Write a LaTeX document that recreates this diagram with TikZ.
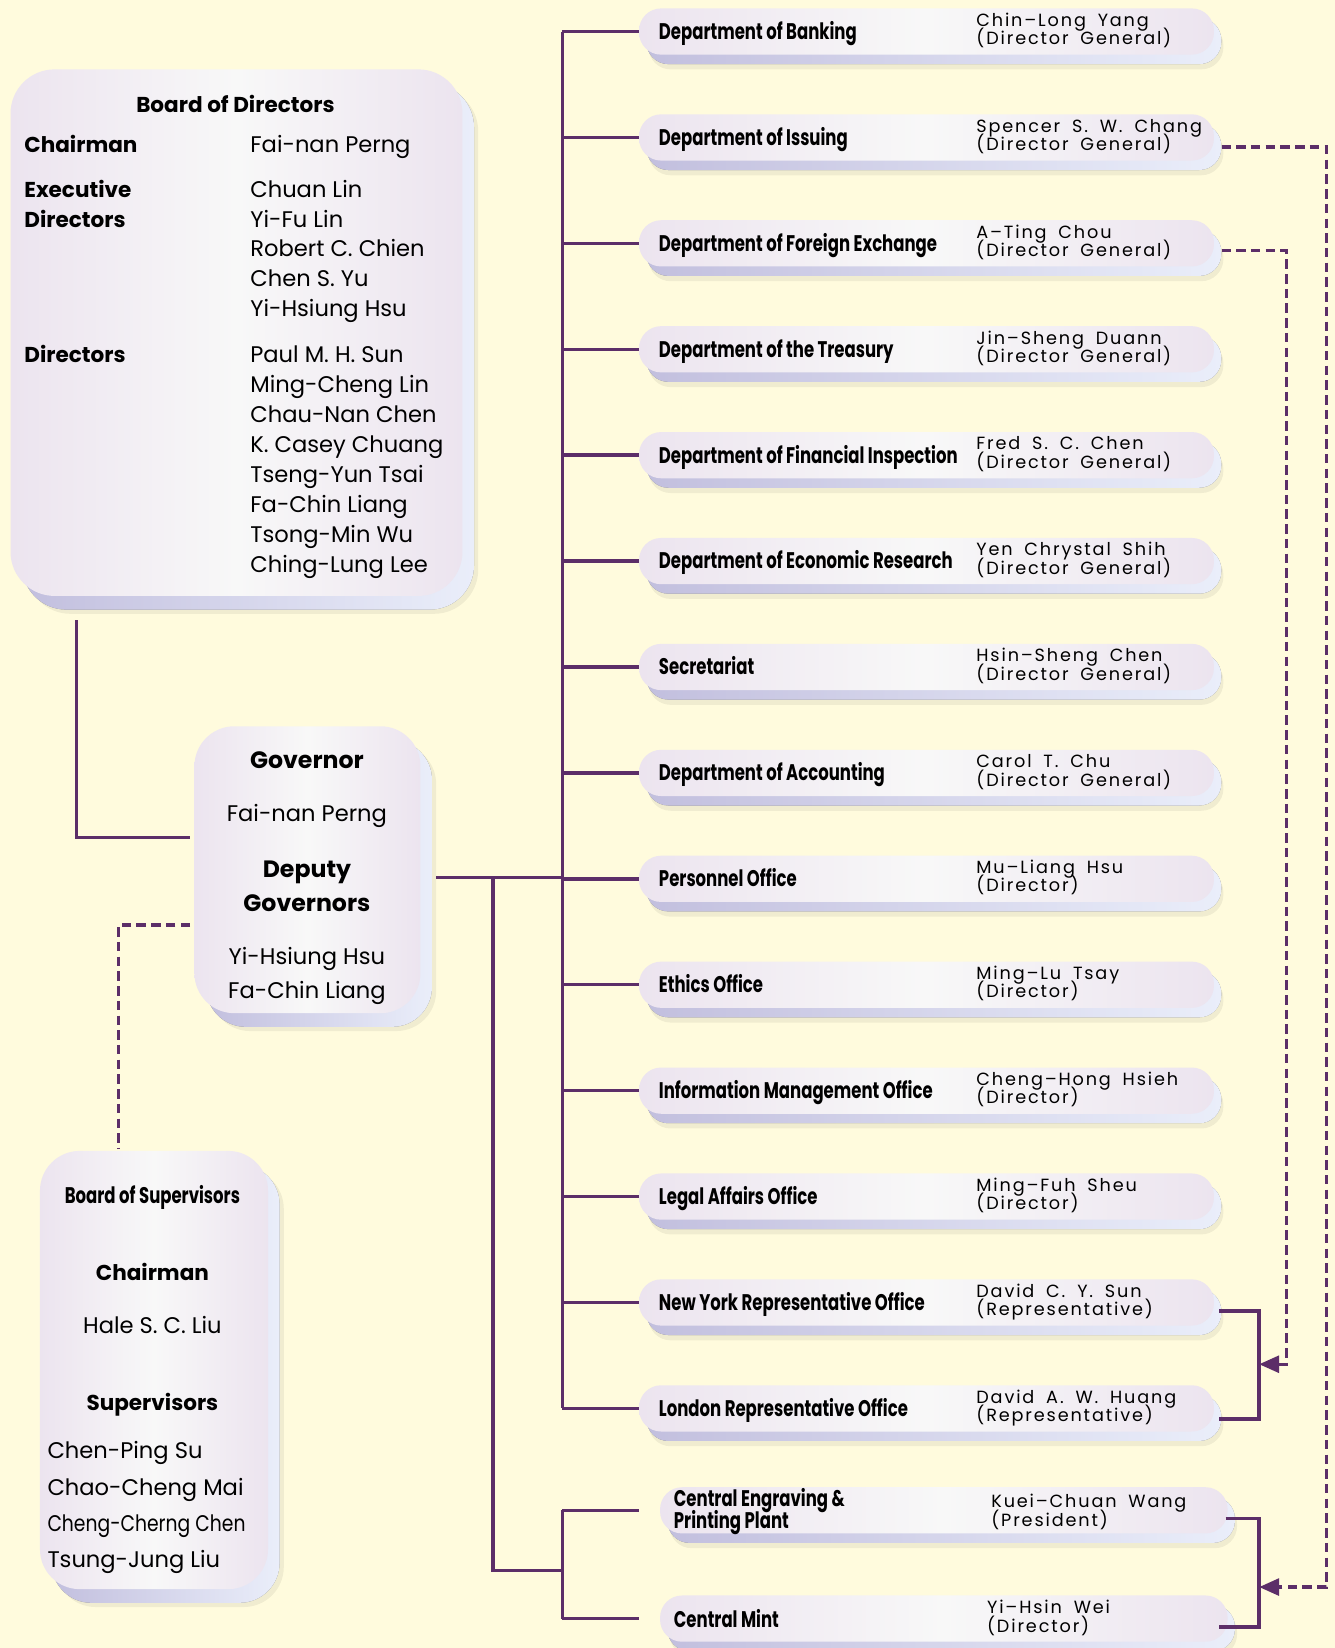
\documentclass[tikz,border=0pt]{standalone}
\usepackage{fontspec}
\setmainfont{Poppins}
\newfontfamily\narrowfont[FakeStretch=0.73]{Poppins}
\newfontfamily\tightfont[FakeStretch=0.83]{Poppins}
\newfontfamily\staffont[LetterSpace=10.5, WordSpace=1.8]{Poppins}
\usetikzlibrary{positioning,arrows.meta,shadows}
\definecolor{cream}{RGB}{255,251,221}
\definecolor{plum}{RGB}{92,46,104}
\definecolor{lilac}{RGB}{236,228,239}
\definecolor{pearl}{RGB}{248,248,248}
\definecolor{haze}{RGB}{194,191,222}
\definecolor{mist}{RGB}{234,238,250}
\begin{document}
\begin{tikzpicture}[x=1pt, y=-1pt,
    panel/.style = {rounded corners=#1, left color=lilac, right color=lilac,
      middle color=pearl, inner sep=0pt},
    boxlift/.style = {
      drop shadow={shadow xshift=15pt, shadow yshift=-17pt, fill=black, opacity=.06},
      drop shadow={shadow xshift=11pt, shadow yshift=-13pt, left color=haze, right color=mist, opacity=1}},
    pilllift/.style = {
      drop shadow={shadow xshift=9pt, shadow yshift=-14pt, fill=black, opacity=.06},
      drop shadow={shadow xshift=7pt, shadow yshift=-9pt, left color=haze, right color=mist, opacity=1}},
    pill/.style = {panel=21pt, pilllift, minimum height=44pt},
    head/.style = {font=\fontsize{20.5}{24}\selectfont\bfseries, inner sep=0pt, anchor=base},
    bighead/.style = {head, font=\fontsize{22.5}{26}\selectfont\bfseries},
    who/.style = {font=\fontsize{21.5}{26}\selectfont, inner sep=0pt, anchor=base west},
    unit/.style = {font=\narrowfont\bfseries\fontsize{21.5}{22}\selectfont, inner sep=0pt, anchor=base west},
    staff/.style = {font=\staffont\fontsize{16.8}{18}\selectfont, inner sep=0pt, anchor=base west},
    link/.style = {draw=plum, line width=3.2pt},
    dlink/.style = {link, dash pattern=on 9pt off 5pt},
    tip/.style = {-{Triangle[length=19pt, width=16pt]}},
  ]
  \fill[cream] (0,0) rectangle (1270,1568);
  \useasboundingbox (0,0) rectangle (1270,1568);

  % board of directors
  \node[panel=42pt, boxlift, minimum width=430pt, minimum height=501pt] (bod) at (225,316.5) {};
  \node[head] (bodtitle) at (224,107) {Board of Directors};
  \node[head, anchor=base west] (chair) at (23,145) {Chairman};
  \node[who] (chairwho) at (238,145) {Fai-nan Perng};
  \node[head, anchor=base west] (exec) at (23,188) {Executive};
  \node[head, anchor=base west] (exec2) at (23,216.5) {Directors};
  \foreach \n [count=\k from 0] in {Chuan Lin, Yi-Fu Lin, Robert C. Chien, Chen S. Yu, Yi-Hsiung Hsu}
    \node[who] (ex\k) at (238,187.5+28.5*\k) {\n};
  \node[head, anchor=base west] (dirs) at (23,345) {Directors};
  \foreach \n [count=\k from 0] in {Paul M. H. Sun, Ming-Cheng Lin, Chau-Nan Chen, K. Casey Chuang,
      Tseng-Yun Tsai, Fa-Chin Liang, Tsong-Min Wu, Ching-Lung Lee}
    \node[who] (dir\k) at (238,345+28.57*\k) {\n};

  % governor
  \node[panel=38pt, boxlift, minimum width=215pt, minimum height=273pt] (gov) at (292.5,827.5) {};
  \node[bighead] (govtitle) at (292,731) {Governor};
  \node[who, anchor=base] (govwho) at (292,782) {Fai-nan Perng};
  \node[bighead] (deptitle) at (292,835) {Deputy};
  \node[bighead] (deptitle2) at (292,867) {Governors};
  \node[who, anchor=base] (dep1) at (292,918) {Yi-Hsiung Hsu};
  \node[who, anchor=base] (dep2) at (292,950) {Fa-Chin Liang};

  % board of supervisors
  \node[panel=38pt, boxlift, minimum width=217pt, minimum height=417pt] (bos) at (146.5,1303.5) {};
  \node[unit, anchor=base] (bostitle) at (145,1145) {Board of Supervisors};
  \node[head] (boschair) at (145,1218) {Chairman};
  \node[who, anchor=base] (boschairwho) at (145,1269) {Hale S. C. Liu};
  \node[head] (bossup) at (145,1342) {Supervisors};
  \node[who] (sup1) at (45,1388) {Chen-Ping Su};
  \node[who] (sup2) at (45,1423) {Chao-Cheng Mai};
  \node[who, font=\tightfont\fontsize{21.5}{26}\selectfont] (sup3) at (45,1457) {Cheng-Cherng Chen};
  \node[who] (sup4) at (45,1491) {Tsung-Jung Liu};

  % departments
  \foreach \dname/\who/\role [count=\i from 0] in {
      Department of Banking/Chin–Long Yang/(Director General),
      Department of Issuing/Spencer S. W. Chang/(Director General),
      Department of Foreign Exchange/A–Ting Chou/(Director General),
      Department of the Treasury/Jin–Sheng Duann/(Director General),
      Department of Financial Inspection/Fred S. C. Chen/(Director General),
      Department of Economic Research/Yen Chrystal Shih/(Director General),
      Secretariat/Hsin–Sheng Chen/(Director General),
      Department of Accounting/Carol T. Chu/(Director General),
      Personnel Office/Mu–Liang Hsu/(Director),
      Ethics Office/Ming–Lu Tsay/(Director),
      Information Management Office/Cheng–Hong Hsieh/(Director),
      Legal Affairs Office/Ming–Fuh Sheu/(Director),
      New York Representative Office/David C. Y. Sun/(Representative),
      London Representative Office/David A. W. Huang/(Representative)}{
    \node[pill, minimum width=547pt] (d\i) at (881.5,30+100.77*\i) {};
    \node[unit] (t\i) at ([shift={(19,7.5)}]d\i.west) {\dname};
    \node[staff] (n\i) at ([shift={(321,-5)}]d\i.west) {\who};
    \node[staff] (r\i) at ([shift={(321,12.5)}]d\i.west) {\role};
  }
  \node[pill, minimum width=540pt] (cep) at (898,1437) {};
  \node[unit] (ceptitle) at (641,1433.5) {Central Engraving \&};
  \node[unit] (ceptitle2) at (641,1454.5) {Printing Plant};
  \node[staff] (cepwho) at (943,1434) {Kuei–Chuan Wang};
  \node[staff] (ceprole) at (943,1452.5) {(President)};
  \node[pill, minimum width=540pt] (mint) at (898,1540) {};
  \node[unit] (minttitle) at (641,1548.5) {Central Mint};
  \node[staff] (mintwho) at (939,1535) {Yi–Hsin Wei};
  \node[staff] (mintrole) at (939,1553.5) {(Director)};

  % connectors
  \coordinate (spine) at (535,835);
  \coordinate (spur) at (469,835);
  \coordinate (spurfoot) at (469,1494);
  \coordinate (footspine) at (535,1494);
  \coordinate (clampA) at (1198,1298);
  \coordinate (clampB) at (1198,1510);

  \draw[link] ([shift={(63,23)}]bod.south west) |- ([shift={(-4,-30.5)}]gov.west);
  \draw[dlink] ([shift={(-4,52.5)}]gov.west) -| ([shift={(-33.5,-2)}]bos.north);
  \draw[link] ([shift={(15,7.5)}]gov.east) -- (spine);
  \draw[link] (d0.west -| spine) -- (d13.west -| spine);
  \foreach \i in {0,...,13}
    \draw[link] (d\i.west -| spine) -- (d\i.west);
  \draw[link] (spur) -- (spurfoot) -- (footspine);
  \draw[link] (cep.west -| spine) -- (mint.west -| spine);
  \draw[link] (cep.west -| spine) -- (cep.west -| d0.west);
  \draw[link] (mint.west -| spine) -- (mint.west -| d0.west);

  \draw[link] ([shift={(5,8)}]d12.east) -| (clampA) |- ([shift={(5,10)}]d13.east);
  \draw[link] ([shift={(-2,8)}]cep.east) -| (clampB) |- ([shift={(-8,8)}]mint.east);
  \draw[dlink, tip] ([shift={(7,9)}]d1.east) -| ([xshift=64pt]clampB) -- (clampB);
  \draw[dlink, tip] ([shift={(7,7)}]d2.east) -| ([xshift=26pt]clampA) -- (clampA);
\end{tikzpicture}
\end{document}
